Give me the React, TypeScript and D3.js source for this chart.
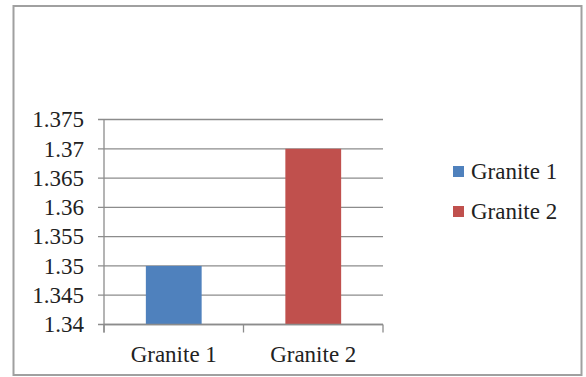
import React from "react";
import * as d3 from "d3";

const categories = ["Granite 1", "Granite 2"];
const values = [1.35, 1.37];
const seriesNames = ["Granite 1", "Granite 2"];
const colors = ["#4F81BD", "#C0504D"];
const yTicks = [1.34, 1.345, 1.35, 1.355, 1.36, 1.365, 1.37, 1.375];

export default function App() {
  const W = 586, H = 377;
  const left = 104, right = 383, top = 119.5, bottom = 324.5;
  const x = d3.scaleBand().domain(categories).range([left, right]).paddingInner(0.6).paddingOuter(0.3);
  const bandX = d3.scaleBand().domain(categories).range([left, right]);
  const y = d3.scaleLinear().domain([1.34, 1.375]).range([bottom, top]);
  const fmt = (v: number) => String(+v.toFixed(3));
  const grid = "#8c8c8c";
  const ts: React.CSSProperties = { fontFamily: "'Liberation Serif', 'Times New Roman', serif", fontSize: 23 };
  return (
    <svg width={W} height={H} style={{ position: "absolute", left: 0, top: 0 }}>
      <rect x={0} y={0} width={W} height={H} fill="#fff" />
      <rect x={13.5} y={6} width={568} height={369} fill="#fff" stroke="#a0a0a0" strokeWidth={2} />
      {yTicks.map((t) => (
        <g key={t}>
          <line x1={98} x2={right} y1={y(t)} y2={y(t)} stroke={grid} strokeWidth={1.3} />
          <text x={84} y={y(t)} dy="0.34em" textAnchor="end" style={ts} fill="#222">
            {fmt(t)}
          </text>
        </g>
      ))}
      {categories.map((c, i) => (
        <rect
          key={c}
          x={x(c)}
          y={y(values[i])}
          width={x.bandwidth()}
          height={y(1.34) - y(values[i])}
          fill={colors[i]}
        />
      ))}
      <line x1={left} x2={left} y1={top} y2={bottom + 8} stroke={grid} strokeWidth={1.3} />
      <line x1={left} x2={right} y1={bottom} y2={bottom} stroke={grid} strokeWidth={1.3} />
      {[...categories.map((c) => bandX(c) as number), right].map((tx, i) => (
        <line key={i} x1={tx} x2={tx} y1={bottom} y2={bottom + 8} stroke={grid} strokeWidth={1.3} />
      ))}
      {categories.map((c) => (
        <text key={c} x={(bandX(c) as number) + bandX.bandwidth() / 2} y={362} textAnchor="middle" style={ts} fill="#222">
          {c}
        </text>
      ))}
      {seriesNames.map((s, i) => (
        <g key={s} transform={`translate(453, ${166 + i * 40})`}>
          <rect x={0} y={0} width={11} height={11} fill={colors[i]} />
          <text x={18} y={12.5} style={ts} fill="#222">
            {s}
          </text>
        </g>
      ))}
    </svg>
  );
}
